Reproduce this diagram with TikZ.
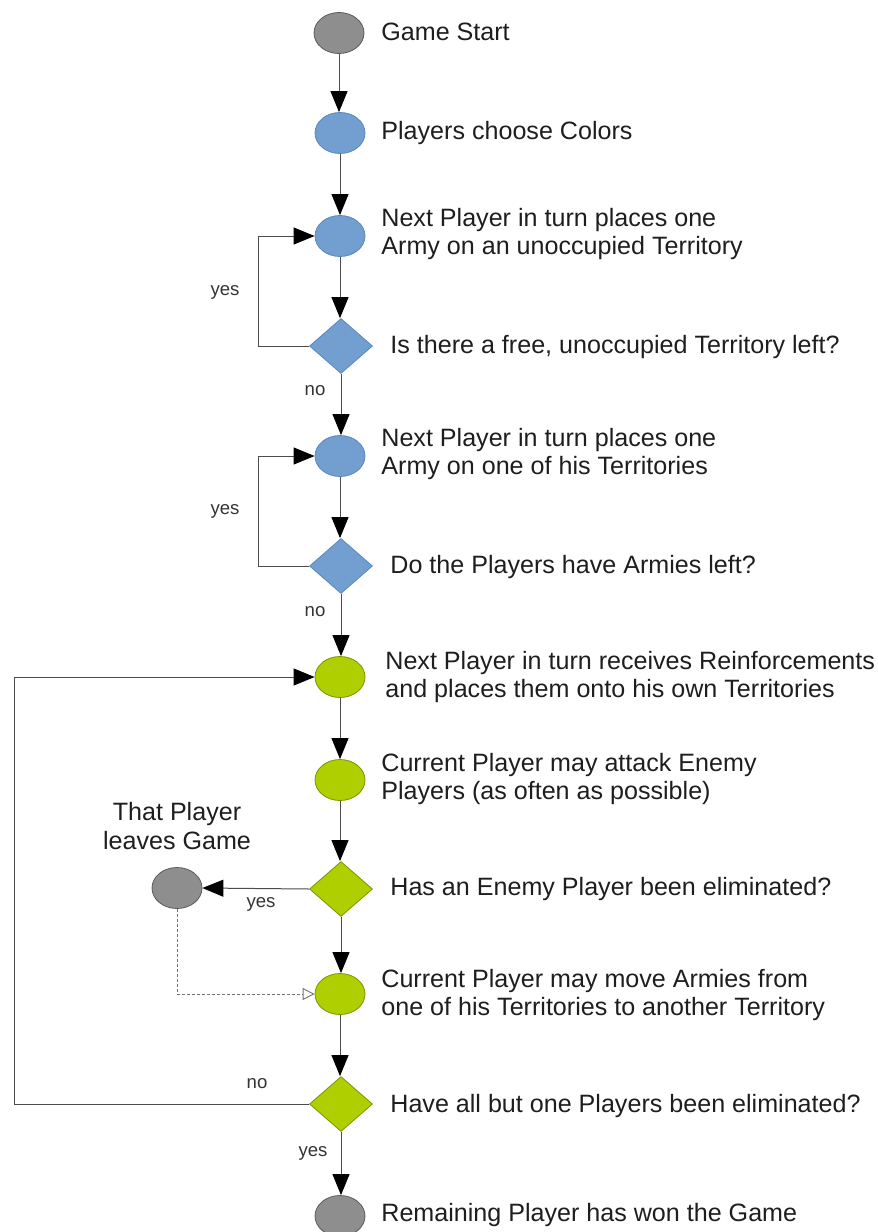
\documentclass[tikz,border=0pt]{standalone}
\usepackage{fontspec}
\setmainfont{Liberation Sans}
\usetikzlibrary{shapes.geometric,arrows.meta}
\definecolor{gfill}{HTML}{8E8E8E}
\definecolor{gline}{HTML}{5A5A5A}
\definecolor{bfill}{HTML}{729FCF}
\definecolor{bline}{HTML}{5A87BD}
\definecolor{yfill}{HTML}{AFCF00}
\definecolor{yline}{HTML}{7D9400}
\definecolor{txt}{HTML}{1E1E1E}
\tikzset{
  ell/.style={ellipse, minimum width=25pt, minimum height=20.5pt, inner sep=0pt, line width=0.4pt},
  dia/.style={diamond, minimum width=31.5pt, minimum height=27.5pt, inner sep=0pt, line width=0.4pt},
  grayn/.style={ell, fill=gfill, draw=gline},
  bluen/.style={ell, fill=bfill, draw=bline},
  bluedia/.style={dia, fill=bfill, draw=bline},
  greenn/.style={ell, fill=yfill, draw=yline},
  greendia/.style={dia, fill=yfill, draw=yline},
  lbl/.style={anchor=west, align=left, text=txt, inner sep=0pt, font=\fontsize{12.55pt}{14.2pt}\selectfont},
  small/.style={text=black!80, inner sep=0pt, font=\fontsize{9.3pt}{11pt}\selectfont},
  conn/.style={draw=black!70, line width=0.5pt, -{Triangle[length=10.5pt,width=8.5pt,color=black,fill=black]}},
  dotconn/.style={draw=black!55, line width=0.45pt, dash pattern=on 1.5pt off 1pt, -{Triangle[open,length=6pt,width=6pt]}}
}
\begin{document}
\begin{tikzpicture}[x=0.5pt,y=-0.5pt]
\useasboundingbox (0,0) rectangle (878,1232);
% nodes
\node[grayn] (start) at (339,33) {};
\node[bluen] (choose) at (340,133) {};
\node[bluen] (place1) at (340,236) {};
\node[bluedia] (d1) at (341,346) {};
\node[bluen] (place2) at (340,456) {};
\node[bluedia] (d2) at (341,566) {};
\node[greenn] (reinf) at (340,677) {};
\node[greenn] (attack) at (340,780) {};
\node[greendia] (d3) at (341,889) {};
\node[grayn] (leave) at (177,888) {};
\node[greenn] (move) at (340,994) {};
\node[greendia] (d4) at (341,1104) {};
\node[grayn] (won) at (340,1216) {};
% texts
\node[lbl] (t1) at (381,32) {Game Start};
\node[lbl] (t2) at (381,133) {Players choose Colors};
\node[lbl] (t3) at (381,234) {Next Player in turn places one\\Army on an unoccupied Territory};
\node[lbl] (t4) at (390,347) {Is there a free, unoccupied Territory left?};
\node[lbl] (t5) at (381,454) {Next Player in turn places one\\Army on one of his Territories};
\node[lbl] (t6) at (390,567) {Do the Players have Armies left?};
\node[lbl] (t7) at (385,677) {Next Player in turn receives Reinforcements\\and places them onto his own Territories};
\node[lbl] (t8) at (381,779) {Current Player may attack Enemy\\Players (as often as possible)};
\node[lbl] (t9) at (390,889) {Has an Enemy Player been eliminated?};
\node[lbl] (t10) at (381,995) {Current Player may move Armies from\\one of his Territories to another Territory};
\node[lbl] (t11) at (390,1106) {Have all but one Players been eliminated?};
\node[lbl] (t12) at (381,1215) {Remaining Player has won the Game};
\node[lbl, anchor=center, align=center] (t13) at (177,826) {That Player\\leaves Game};
% small labels
\node[small] (y1) at (225,292) {yes};
\node[small] (n1) at (315,391) {no};
\node[small] (y2) at (225,511) {yes};
\node[small] (n2) at (315,612) {no};
\node[small] (y3) at (261,904) {yes};
\node[small] (n3) at (257,1084) {no};
\node[small] (y4) at (313,1153) {yes};
% loop coordinates
\coordinate (lx) at (258,0);
\coordinate (ox) at (14,0);
% connectors
\draw[conn] (start) -- (start |- choose.north);
\draw[conn] (choose) -- (choose |- place1.north);
\draw[conn] (place1) -- (place1 |- d1.north);
\draw[conn] (d1) -- (d1 |- place2.north);
\draw[conn] (place2) -- (place2 |- d2.north);
\draw[conn] (d2) -- (d2 |- reinf.north);
\draw[conn] (reinf) -- (attack);
\draw[conn] (attack) -- (attack |- d3.north);
\draw[conn] (d3) -- (d3 |- move.north);
\draw[conn] (move) -- (move |- d4.north);
\draw[conn] (d4) -- (d4 |- won.north);
\draw[conn] (d1.west) -- (d1.west -| lx) |- (place1.west);
\draw[conn] (d2.west) -- (d2.west -| lx) |- (place2.west);
\draw[conn] (d4.west) -- (d4.west -| ox) |- (reinf.west);
\draw[conn] (d3.west) -- (leave.east);
\draw[dotconn] (leave.south) |- (move.west);
\end{tikzpicture}
\end{document}
